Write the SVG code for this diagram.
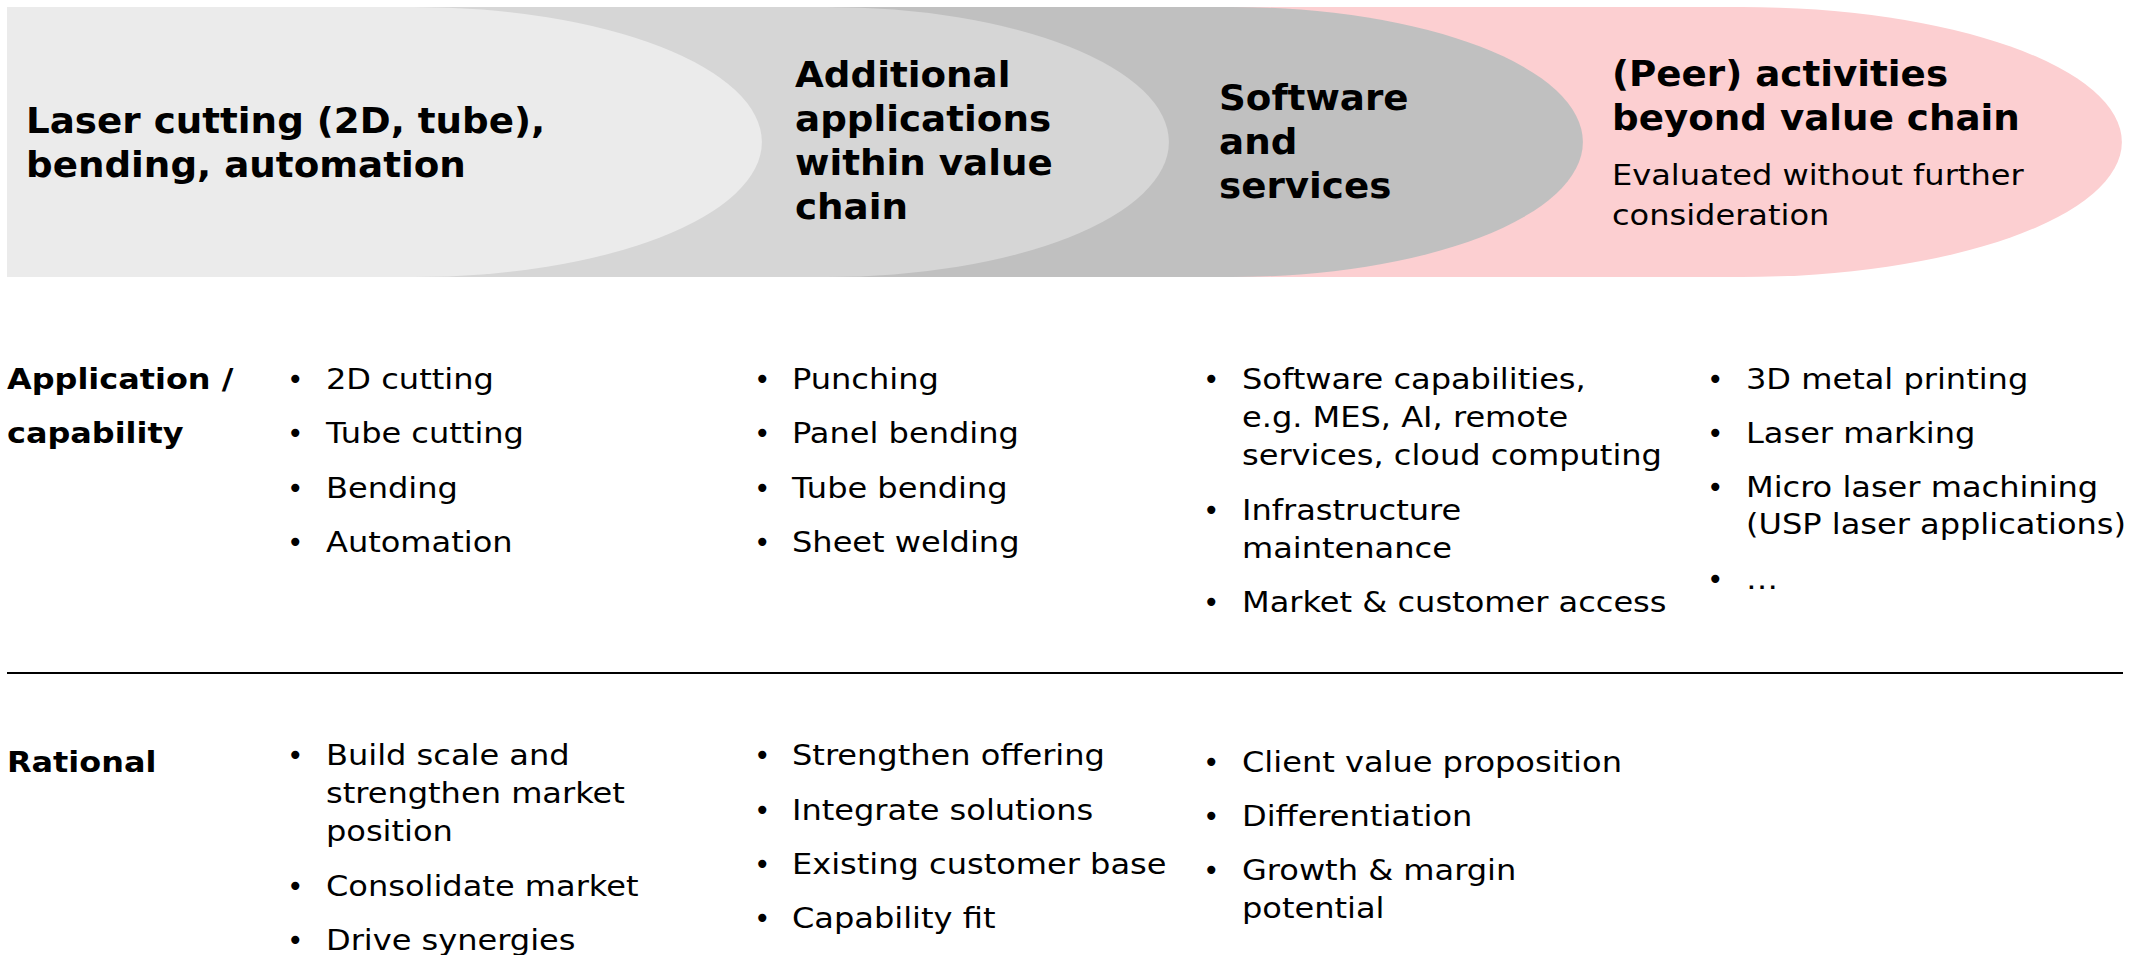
<svg xmlns="http://www.w3.org/2000/svg" width="2138" height="955" viewBox="0 0 2138 955">
  <style>
    text { font-family: "DejaVu Sans", Verdana, sans-serif; fill: #000; }
    /* widen glyphs around each line's own left edge */
    .head, .sub, .lbl, .item { transform-box: fill-box; transform-origin: 0 0; }
    .head { font-size: 36px; font-weight: bold; transform: scaleX(1.035); }
    .sub { font-size: 28px; transform: scaleX(1.145); }
    .lbl { font-size: 28px; font-weight: bold; transform: scaleX(1.14); }
    .item { font-size: 28px; transform: scaleX(1.145); }
    .dot { font-size: 28px; }
  </style>

  <!-- Stage bands across the top, drawn back to front -->
  <g id="stage-peer">
    <path d="M1232,7 H1742 A380,135 0 0 1 1742,277 H1232 Z" fill="#FCCFD1"/>
    <text class="head" x="1612" y="86">(Peer) activities</text>
    <text class="head" x="1612" y="130">beyond value chain</text>
    <text class="sub" x="1612" y="185">Evaluated without further</text>
    <text class="sub" x="1612" y="225">consideration</text>
  </g>
  <g id="stage-software">
    <path d="M827,7 H1232 A351,135 0 0 1 1232,277 H827 Z" fill="#C0C0C0"/>
    <text class="head" x="1219" y="110">Software</text>
    <text class="head" x="1219" y="154">and</text>
    <text class="head" x="1219" y="198">services</text>
  </g>
  <g id="stage-additional">
    <path d="M414,7 H827 A342,135 0 0 1 827,277 H414 Z" fill="#D6D6D6"/>
    <text class="head" x="795" y="87">Additional</text>
    <text class="head" x="795" y="131">applications</text>
    <text class="head" x="795" y="175">within value</text>
    <text class="head" x="795" y="219">chain</text>
  </g>
  <g id="stage-core">
    <path d="M7,7 H414 A348,135 0 0 1 414,277 H7 Z" fill="#EBEBEB"/>
    <text class="head" x="26" y="133">Laser cutting (2D, tube),</text>
    <text class="head" x="26" y="177">bending, automation</text>
  </g>

  <!-- Row: application / capability -->
  <g id="row-application">
    <text class="lbl" x="7" y="389">Application /</text>
    <text class="lbl" x="7" y="443">capability</text>

    <text class="dot" x="287" y="389">•</text><text class="item" x="326" y="389">2D cutting</text>
    <text class="dot" x="287" y="443">•</text><text class="item" x="326" y="443">Tube cutting</text>
    <text class="dot" x="287" y="498">•</text><text class="item" x="326" y="498">Bending</text>
    <text class="dot" x="287" y="552">•</text><text class="item" x="326" y="552">Automation</text>

    <text class="dot" x="754" y="389">•</text><text class="item" x="792" y="389">Punching</text>
    <text class="dot" x="754" y="443">•</text><text class="item" x="792" y="443">Panel bending</text>
    <text class="dot" x="754" y="498">•</text><text class="item" x="792" y="498">Tube bending</text>
    <text class="dot" x="754" y="552">•</text><text class="item" x="792" y="552">Sheet welding</text>

    <text class="dot" x="1203" y="389">•</text><text class="item" x="1242" y="389">Software capabilities,</text>
    <text class="item" x="1242" y="427">e.g. MES, AI, remote</text>
    <text class="item" x="1242" y="465">services, cloud computing</text>
    <text class="dot" x="1203" y="520">•</text><text class="item" x="1242" y="520">Infrastructure</text>
    <text class="item" x="1242" y="558">maintenance</text>
    <text class="dot" x="1203" y="612">•</text><text class="item" x="1242" y="612">Market &amp; customer access</text>

    <text class="dot" x="1707" y="389">•</text><text class="item" x="1746" y="389">3D metal printing</text>
    <text class="dot" x="1707" y="443">•</text><text class="item" x="1746" y="443">Laser marking</text>
    <text class="dot" x="1707" y="497">•</text><text class="item" x="1746" y="497">Micro laser machining</text>
    <text class="item" x="1746" y="534">(USP laser applications)</text>
    <text class="dot" x="1707" y="589">•</text><text class="item" x="1746" y="589">…</text>
  </g>

  <!-- Divider between the two rows -->
  <g id="connectors">
    <line x1="7" y1="673" x2="2123" y2="673" stroke="#000" stroke-width="2"/>
  </g>

  <!-- Row: rational -->
  <g id="row-rational">
    <text class="lbl" x="7" y="772">Rational</text>

    <text class="dot" x="287" y="765">•</text><text class="item" x="326" y="765">Build scale and</text>
    <text class="item" x="326" y="803">strengthen market</text>
    <text class="item" x="326" y="841">position</text>
    <text class="dot" x="287" y="896">•</text><text class="item" x="326" y="896">Consolidate market</text>
    <text class="dot" x="287" y="950">•</text><text class="item" x="326" y="950">Drive synergies</text>

    <text class="dot" x="754" y="765">•</text><text class="item" x="792" y="765">Strengthen offering</text>
    <text class="dot" x="754" y="820">•</text><text class="item" x="792" y="820">Integrate solutions</text>
    <text class="dot" x="754" y="874">•</text><text class="item" x="792" y="874">Existing customer base</text>
    <text class="dot" x="754" y="928">•</text><text class="item" x="792" y="928">Capability fit</text>

    <text class="dot" x="1203" y="772">•</text><text class="item" x="1242" y="772">Client value proposition</text>
    <text class="dot" x="1203" y="826">•</text><text class="item" x="1242" y="826">Differentiation</text>
    <text class="dot" x="1203" y="880">•</text><text class="item" x="1242" y="880">Growth &amp; margin</text>
    <text class="item" x="1242" y="918">potential</text>
  </g>
</svg>
